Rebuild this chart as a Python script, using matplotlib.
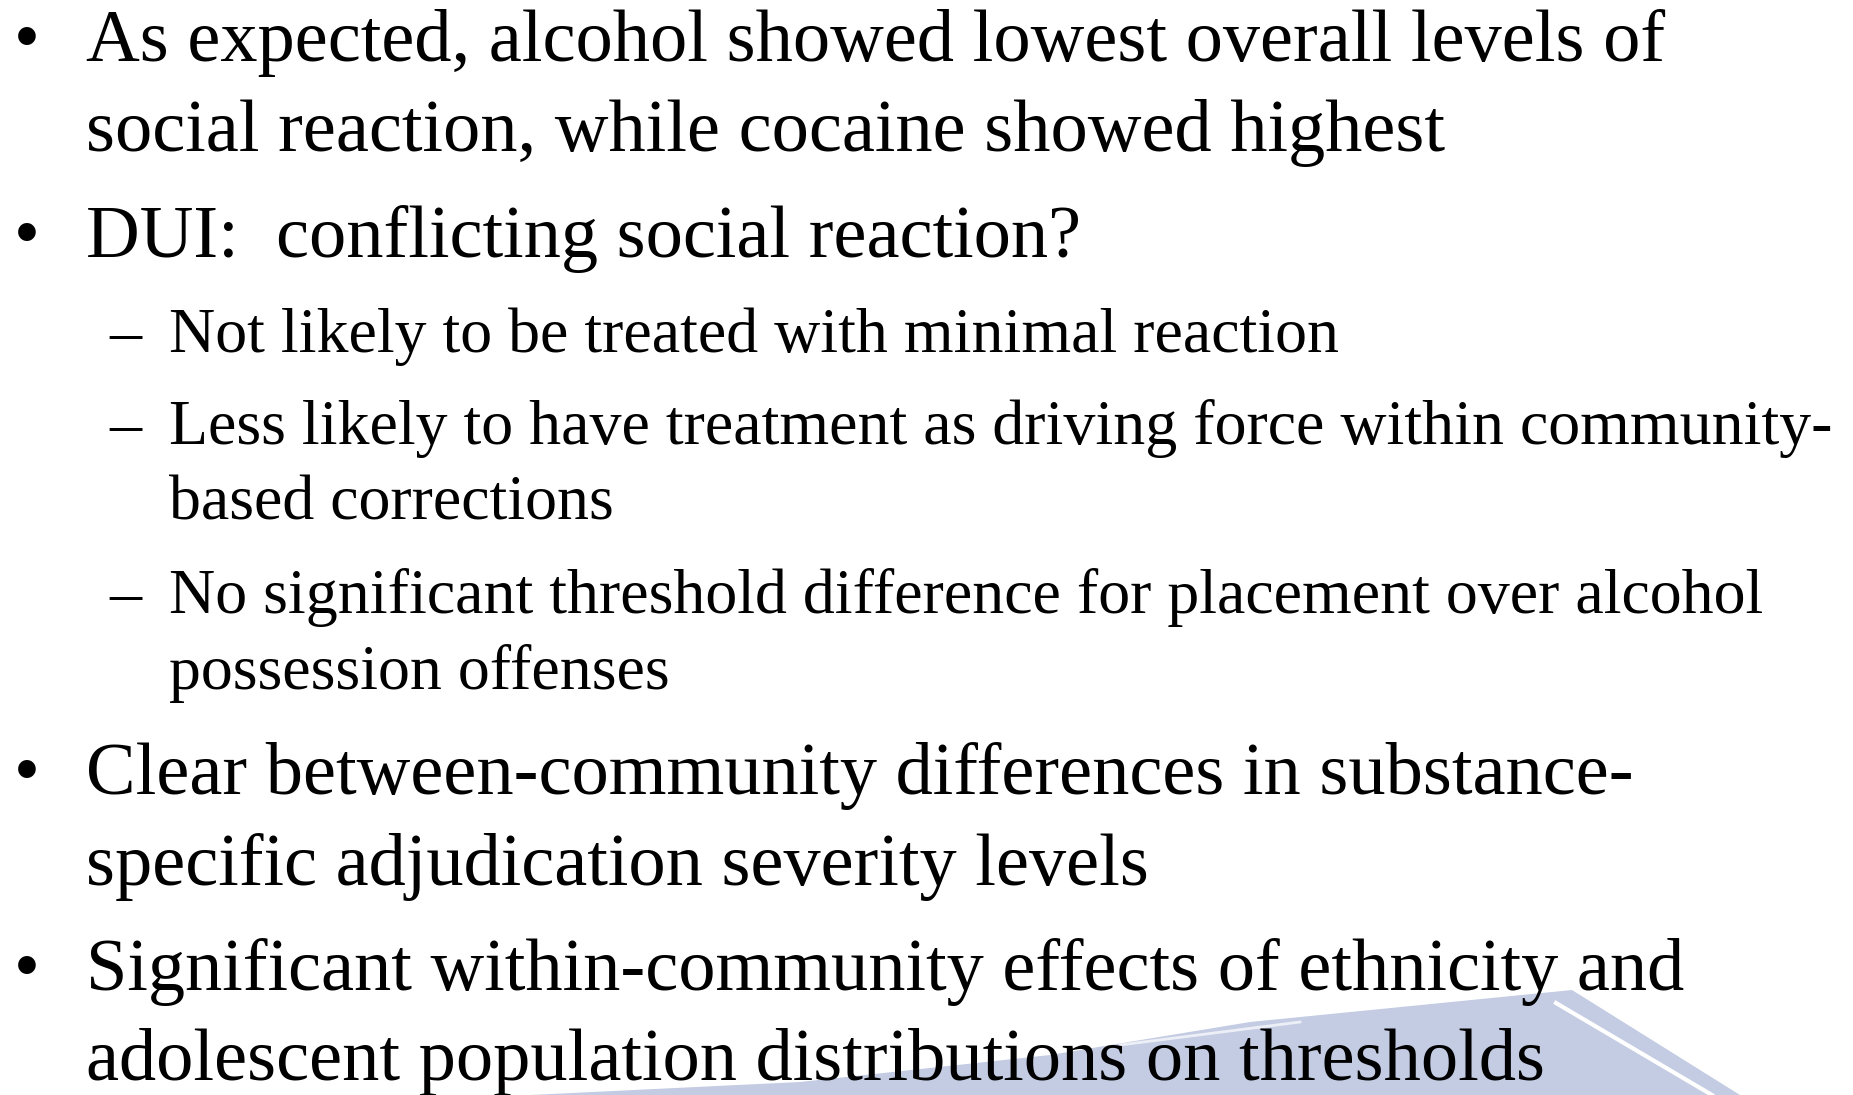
import matplotlib.pyplot as plt
from matplotlib.patches import Polygon

# slide content: (level, marker, text, baseline y in px)
lines = [
    (0, "•", "As expected, alcohol showed lowest overall levels of", 61),
    (0, "", "social reaction, while cocaine showed highest", 151),
    (0, "•", "DUI:  conflicting social reaction?", 257),
    (1, "–", "Not likely to be treated with minimal reaction", 352),
    (1, "–", "Less likely to have treatment as driving force within community-", 444),
    (1, "", "based corrections", 520),
    (1, "–", "No significant threshold difference for placement over alcohol", 613),
    (1, "", "possession offenses", 689),
    (0, "•", "Clear between-community differences in substance-", 794),
    (0, "", "specific adjudication severity levels", 885),
    (0, "•", "Significant within-community effects of ethnicity and", 990),
    (0, "", "adolescent population distributions on thresholds", 1080),
]

# background shape (bottom right)
shape_x = [530, 800, 1050, 1250, 1572, 1740]
shape_y = [1095, 1082, 1055, 1022, 990, 1095]

W, H = 1853, 1095
fig = plt.figure(figsize=(W / 100, H / 100), dpi=100)
ax = fig.add_axes([0, 0, 1, 1])
ax.set_xlim(0, W)
ax.set_ylim(H, 0)
ax.axis("off")

ax.add_patch(Polygon(list(zip(shape_x, shape_y)), closed=True,
                     facecolor="#c4cce3", edgecolor="none", zorder=0))
ax.plot([1556, 1712], [1003, 1095], color="white", lw=3, zorder=1)
ax.plot([1120, 1300], [1045, 1022], color="white", lw=2, alpha=0.7, zorder=1)

font = "Liberation Serif"
marker_x = {0: 14, 1: 109}
text_x = {0: 86, 1: 169}
size = {0: 53.6, 1: 46}

for level, mark, txt, y in lines:
    if mark:
        ax.text(marker_x[level], y, mark, fontsize=size[level], family=font,
                va="baseline", ha="left", zorder=2)
    ax.text(text_x[level], y, txt, fontsize=size[level], family=font,
            va="baseline", ha="left", zorder=2)

fig.savefig("out.png", dpi=100)
